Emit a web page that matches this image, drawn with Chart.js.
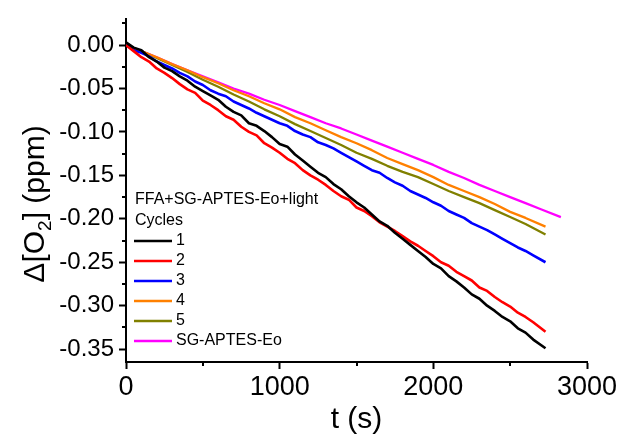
<!DOCTYPE html>
<html lang="en">
<head>
  <meta charset="UTF-8">
  <title>Δ[O2] vs t</title>
  <script src="https://cdn.jsdelivr.net/npm/chart.js@4.4.1/dist/chart.umd.min.js"></script>
  <style>
    body { margin: 0; background: #fff; }
  </style>
</head>
<body>
  <canvas id="chart" width="630" height="444"></canvas>
  <script>
    // time points (s)
    const t50 = [0, 50, 100, 150, 200, 250, 300, 350, 400, 450, 500, 550, 600, 650, 700, 750, 800, 850, 900, 950,
      1000, 1050, 1100, 1150, 1200, 1250, 1300, 1350, 1400, 1450, 1500, 1550, 1600, 1650, 1700, 1750, 1800, 1850, 1900, 1950,
      2000, 2050, 2100, 2150, 2200, 2250, 2300, 2350, 2400, 2450, 2500, 2550, 2600, 2650, 2730];
    const t100 = [0, 100, 200, 300, 400, 500, 600, 700, 800, 900, 1000, 1100, 1200, 1300, 1400, 1500, 1600, 1700, 1800,
      1900, 2000, 2100, 2200, 2300, 2400, 2500, 2600, 2730];
    const tRef = [0, 100, 200, 300, 400, 500, 600, 700, 800, 900, 1000, 1100, 1200, 1300, 1400, 1500, 1600, 1700, 1800,
      1900, 2000, 2100, 2200, 2300, 2400, 2500, 2600, 2700, 2830];

    // Δ[O2] (ppm)
    const cycle1 = [0.003, -0.003, -0.006, -0.014, -0.019, -0.026, -0.030, -0.036, -0.041, -0.048, -0.053, -0.058, -0.063, -0.071,
      -0.077, -0.081, -0.090, -0.093, -0.099, -0.106, -0.114, -0.117, -0.126, -0.133, -0.140, -0.147, -0.152, -0.160,
      -0.166, -0.174, -0.181, -0.187, -0.195, -0.203, -0.208, -0.216, -0.223, -0.230, -0.237, -0.244, -0.252, -0.257,
      -0.266, -0.272, -0.279, -0.287, -0.292, -0.300, -0.306, -0.313, -0.318, -0.326, -0.331, -0.339, -0.349];
    const cycle2 = [0.000, -0.007, -0.014, -0.019, -0.027, -0.032, -0.038, -0.045, -0.051, -0.055, -0.064, -0.069, -0.075, -0.082,
      -0.086, -0.094, -0.100, -0.104, -0.113, -0.118, -0.124, -0.131, -0.136, -0.144, -0.150, -0.155, -0.161, -0.168,
      -0.174, -0.178, -0.187, -0.191, -0.197, -0.204, -0.209, -0.214, -0.220, -0.226, -0.231, -0.237, -0.243, -0.250,
      -0.254, -0.261, -0.266, -0.271, -0.279, -0.283, -0.290, -0.296, -0.301, -0.308, -0.313, -0.319, -0.330];
    const cycle3 = [0.000, -0.006, -0.009, -0.013, -0.019, -0.023, -0.027, -0.032, -0.036, -0.042, -0.046, -0.052, -0.056, -0.059,
      -0.065, -0.069, -0.073, -0.078, -0.082, -0.086, -0.090, -0.093, -0.099, -0.103, -0.106, -0.112, -0.115, -0.119,
      -0.124, -0.129, -0.134, -0.139, -0.144, -0.147, -0.153, -0.158, -0.162, -0.168, -0.172, -0.176, -0.181, -0.185,
      -0.191, -0.195, -0.199, -0.205, -0.209, -0.213, -0.218, -0.223, -0.228, -0.233, -0.237, -0.242, -0.250];
    const cycle4 = [0.000, -0.007, -0.014, -0.022, -0.029, -0.037, -0.044, -0.052, -0.059, -0.067, -0.074, -0.083, -0.090, -0.098,
      -0.106, -0.113, -0.121, -0.130, -0.137, -0.144, -0.152, -0.161, -0.168, -0.175, -0.183, -0.192, -0.199, -0.209];
    const cycle5 = [0.000, -0.007, -0.015, -0.023, -0.031, -0.040, -0.048, -0.057, -0.065, -0.074, -0.082, -0.091, -0.099, -0.107,
      -0.115, -0.124, -0.131, -0.139, -0.146, -0.152, -0.160, -0.168, -0.175, -0.182, -0.190, -0.198, -0.206, -0.218];
    const sgAptesEo = [0.000, -0.007, -0.014, -0.022, -0.029, -0.036, -0.043, -0.050, -0.056, -0.063, -0.069, -0.076, -0.083, -0.090,
      -0.096, -0.103, -0.110, -0.117, -0.124, -0.131, -0.138, -0.146, -0.153, -0.161, -0.168, -0.175, -0.182, -0.189, -0.198];

    const seriesLabels = ['1', '2', '3', '4', '5', 'SG-APTES-Eo'];
    const seriesColors = ['#000000', '#ff0000', '#0000ff', '#ff8000', '#808000', '#ff00ff'];
    const legendHeader = ['FFA+SG-APTES-Eo+light', 'Cycles'];

    const xTicks = [0, 1000, 2000, 3000];
    const xMinor = [500, 1500, 2500];
    const yTicks = [0.00, -0.05, -0.10, -0.15, -0.20, -0.25, -0.30, -0.35];
    const yMinor = [0.025, -0.025, -0.075, -0.125, -0.175, -0.225, -0.275, -0.325];

    const FONT = '"Liberation Sans", Arial, sans-serif';

    function pts(ts, vs) {
      return ts.map((t, i) => ({ x: t, y: vs[i] }));
    }

    const seriesData = [
      pts(t50, cycle1), pts(t50, cycle2), pts(t50, cycle3),
      pts(t100, cycle4), pts(t100, cycle5), pts(tRef, sgAptesEo)
    ];

    // short ticks between the labelled ones
    const minorTicks = {
      id: 'minorTicks',
      afterDraw(chart) {
        const { ctx, scales: { x, y }, chartArea } = chart;
        ctx.save();
        ctx.strokeStyle = '#000';
        ctx.lineWidth = 2;
        ctx.beginPath();
        yMinor.forEach(v => {
          const p = Math.round(y.getPixelForValue(v));
          ctx.moveTo(chartArea.left - 4, p);
          ctx.lineTo(chartArea.left, p);
        });
        xMinor.forEach(v => {
          const p = Math.round(x.getPixelForValue(v));
          ctx.moveTo(p, chartArea.bottom);
          ctx.lineTo(p, chartArea.bottom + 4);
        });
        ctx.stroke();
        ctx.restore();
      }
    };

    // y title with subscript
    const yTitle = {
      id: 'yTitle',
      afterDraw(chart) {
        const ctx = chart.ctx;
        const big = '30px ' + FONT;
        const small = '19px ' + FONT;
        const parts = [['Δ[O', big, 0], ['2', small, 7], ['] (ppm)', big, 0]];
        ctx.save();
        let total = 0;
        parts.forEach(p => { ctx.font = p[1]; total += ctx.measureText(p[0]).width; });
        ctx.translate(44, 204);
        ctx.rotate(-Math.PI / 2);
        ctx.fillStyle = '#000';
        ctx.textBaseline = 'alphabetic';
        let xPos = -total / 2;
        parts.forEach(p => {
          ctx.font = p[1];
          ctx.fillText(p[0], xPos, p[2]);
          xPos += ctx.measureText(p[0]).width;
        });
        ctx.restore();
      }
    };

    const insideLegend = {
      id: 'insideLegend',
      afterDraw(chart) {
        const ctx = chart.ctx;
        ctx.save();
        ctx.font = '16px ' + FONT;
        ctx.fillStyle = '#000';
        ctx.textBaseline = 'middle';
        ctx.fillText(legendHeader[0], 135, 200);
        ctx.fillText(legendHeader[1], 135, 221);
        chart.data.datasets.forEach((ds, i) => {
          const yy = 241 + i * 20;
          ctx.strokeStyle = ds.borderColor;
          ctx.lineWidth = 2.5;
          ctx.beginPath();
          ctx.moveTo(134, yy);
          ctx.lineTo(172, yy);
          ctx.stroke();
          ctx.fillStyle = '#000';
          ctx.fillText(ds.label, 176, yy);
        });
        ctx.restore();
      }
    };

    new Chart(document.getElementById('chart'), {
      type: 'line',
      data: {
        datasets: seriesData.map((d, i) => ({
          label: seriesLabels[i],
          data: d,
          borderColor: seriesColors[i],
          borderWidth: i < 3 ? 2.6 : 2.3,
          pointRadius: 0,
          tension: 0,
          fill: false,
          borderJoinStyle: 'round'
        }))
      },
      options: {
        responsive: false,
        animation: false,
        devicePixelRatio: 1,
        layout: { padding: { top: 15, right: 43, left: 0, bottom: 0 } },
        plugins: { legend: { display: false }, tooltip: { enabled: false } },
        scales: {
          x: {
            type: 'linear',
            min: 0,
            max: 3000,
            afterFit: s => { s.height = 82; },
            afterBuildTicks: s => { s.ticks = xTicks.map(v => ({ value: v })); },
            border: { display: true, color: '#000', width: 2 },
            grid: { drawOnChartArea: false, drawTicks: true, tickLength: 7, tickColor: '#000', tickWidth: 2 },
            ticks: {
              color: '#000',
              font: { family: FONT, size: 27 },
              padding: 2,
              maxRotation: 0,
              autoSkip: false,
              callback: v => String(v)
            },
            title: { display: true, text: 't (s)', color: '#000', font: { family: FONT, size: 30 }, padding: { top: 0, bottom: 6 } }
          },
          y: {
            type: 'linear',
            min: -0.3648,
            max: 0.0295,
            afterFit: s => { s.width = 126; },
            afterBuildTicks: s => { s.ticks = yTicks.map(v => ({ value: v })); },
            border: { display: true, color: '#000', width: 2 },
            grid: { drawOnChartArea: false, drawTicks: true, tickLength: 7, tickColor: '#000', tickWidth: 2 },
            ticks: {
              color: '#000',
              font: { family: FONT, size: 24 },
              padding: 5,
              autoSkip: false,
              callback: v => v.toFixed(2)
            }
          }
        }
      },
      plugins: [minorTicks, yTitle, insideLegend]
    });
  </script>
</body>
</html>
